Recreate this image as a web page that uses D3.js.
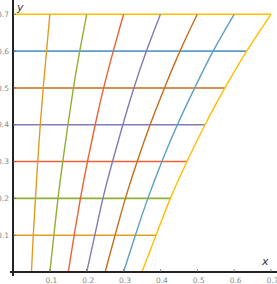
<!DOCTYPE html>
<html>
<head>
<meta charset="utf-8">
<script src="https://cdn.jsdelivr.net/npm/d3@7"></script>
<style>
  body { margin: 0; background: #fff; }
  text { font-family: "DejaVu Sans", sans-serif; }
</style>
</head>
<body>
<div id="chart"></div>
<script>
// levels where the horizontal lines sit
const yLevels = [0, 0.1, 0.2, 0.3, 0.4, 0.5, 0.6, 0.7];

// x position of each near-vertical curve at every y level
const curveX = [
  [0.05, 0.055, 0.061, 0.067, 0.074, 0.082, 0.091, 0.10],
  [0.10, 0.111, 0.122, 0.135, 0.149, 0.164, 0.181, 0.20],
  [0.15, 0.166, 0.183, 0.202, 0.223, 0.246, 0.272, 0.30],
  [0.20, 0.222, 0.244, 0.270, 0.298, 0.328, 0.362, 0.40],
  [0.25, 0.277, 0.305, 0.337, 0.372, 0.411, 0.453, 0.50],
  [0.30, 0.332, 0.366, 0.404, 0.446, 0.493, 0.543, 0.60],
  [0.35, 0.388, 0.427, 0.472, 0.521, 0.575, 0.634, 0.70]
];

const colors = ['#E19C24', '#8FB032', '#EB6235', '#8778B6', '#C56E1A', '#5D9EC7', '#FFBF00'];

const xTicks = [0.1, 0.2, 0.3, 0.4, 0.5, 0.6, 0.7];
const yTicks = [0.1, 0.2, 0.3, 0.4, 0.5, 0.6, 0.7];

const width = 277, height = 284;

const x = d3.scaleLinear().domain([0, 0.7]).range([13, 271]);
const y = d3.scaleLinear().domain([0, 0.7]).range([272, 14.3]);

const svg = d3.select('#chart')
              .append('svg')
              .attr('width', width)
              .attr('height', height);

// horizontal lines, from y axis out to the last curve
const edge = curveX[curveX.length - 1];
svg.append('g')
   .selectAll('line')
   .data(yLevels.slice(1))
   .enter()
   .append('line')
   .attr('x1', x(0))
   .attr('x2', (d, i) => x(edge[i + 1]))
   .attr('y1', d => y(d))
   .attr('y2', d => y(d))
   .attr('stroke', (d, i) => colors[i])
   .attr('stroke-width', 1.6);

const line = d3.line()
               .x(d => x(d[0]))
               .y(d => y(d[1]))
               .curve(d3.curveNatural);

svg.append('g')
   .selectAll('path')
   .data(curveX)
   .enter()
   .append('path')
   .attr('d', c => line(c.map((v, j) => [v, yLevels[j]])))
   .attr('fill', 'none')
   .attr('stroke', (d, i) => colors[i])
   .attr('stroke-width', 1.4);

// axes
const axisColor = '#222';
svg.append('line')
   .attr('x1', 10).attr('x2', width)
   .attr('y1', y(0)).attr('y2', y(0))
   .attr('stroke', axisColor).attr('stroke-width', 2);
svg.append('line')
   .attr('x1', x(0)).attr('x2', x(0))
   .attr('y1', 0).attr('y2', 276)
   .attr('stroke', axisColor).attr('stroke-width', 2);

// tick marks
svg.append('g')
   .selectAll('line')
   .data(xTicks)
   .enter()
   .append('line')
   .attr('x1', d => x(d)).attr('x2', d => x(d))
   .attr('y1', y(0) - 3).attr('y2', y(0))
   .attr('stroke', '#666').attr('stroke-width', 0.8);
svg.append('g')
   .selectAll('line')
   .data(yTicks)
   .enter()
   .append('line')
   .attr('x1', x(0)).attr('x2', x(0) + 3)
   .attr('y1', d => y(d)).attr('y2', d => y(d))
   .attr('stroke', '#666').attr('stroke-width', 0.8);

// tick labels
svg.append('g')
   .selectAll('text')
   .data(xTicks)
   .enter()
   .append('text')
   .attr('x', d => x(d) + 1.5)
   .attr('y', 283)
   .attr('text-anchor', 'middle')
   .attr('font-size', 7.5)
   .attr('fill', '#888')
   .text(d => d);
svg.append('g')
   .selectAll('text')
   .data(yTicks)
   .enter()
   .append('text')
   .attr('x', 9)
   .attr('y', d => y(d))
   .attr('dy', '0.35em')
   .attr('text-anchor', 'end')
   .attr('font-size', 7.5)
   .attr('fill', '#888')
   .text(d => d);

// axis names
svg.append('text')
   .attr('x', 17).attr('y', 11)
   .attr('font-size', 11)
   .attr('font-style', 'italic')
   .attr('font-family', '"Liberation Serif", serif')
   .attr('fill', '#333')
   .text('y');
svg.append('text')
   .attr('x', 262).attr('y', 265)
   .attr('font-size', 11)
   .attr('font-style', 'italic')
   .attr('font-family', '"Liberation Serif", serif')
   .attr('fill', '#333')
   .text('x');
</script>
</body>
</html>
